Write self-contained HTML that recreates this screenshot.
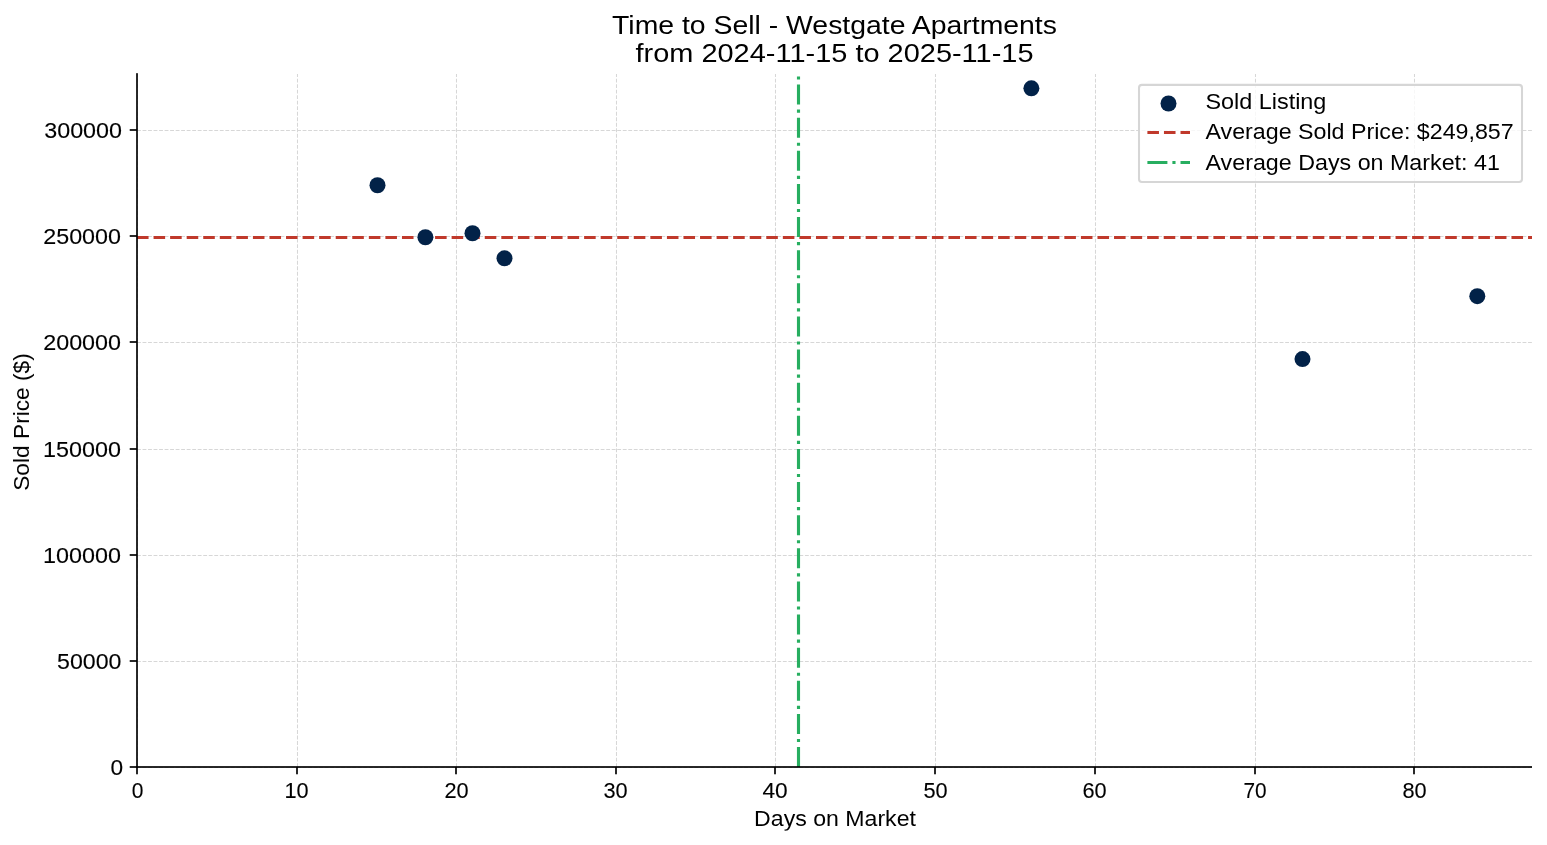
<!DOCTYPE html>
<html><head><meta charset="utf-8"><title>Time to Sell - Westgate Apartments</title>
<style>
html,body{margin:0;padding:0;background:#fff;width:1547px;height:845px;overflow:hidden}
svg{display:block}
text{font-family:"Liberation Sans",sans-serif;}
</style></head><body>
<svg width="1547" height="845" viewBox="0 0 1547 845">
<rect width="1547" height="845" fill="#fff"/>
<path d="M137.5 767.0V74.0 M297.5 767.0V74.0 M456.5 767.0V74.0 M616.5 767.0V74.0 M775.5 767.0V74.0 M935.5 767.0V74.0 M1095.5 767.0V74.0 M1255.5 767.0V74.0 M1414.5 767.0V74.0 M137.0 767.5H1532.0 M137.0 661.5H1532.0 M137.0 555.5H1532.0 M137.0 449.5H1532.0 M137.0 342.5H1532.0 M137.0 236.5H1532.0 M137.0 130.5H1532.0" stroke="#d7d7d7" stroke-width="1.04" stroke-dasharray="3.85 1.67" fill="none"/>
<path d="M137.0 237.5H1532.0" stroke="#c0392b" stroke-width="3.125" stroke-dasharray="11.56 5" fill="none"/>
<path d="M798.5 767.0V74.0" stroke="#27ae60" stroke-width="3.125" stroke-dasharray="20 5 3.125 5" fill="none"/>
<rect x="136.165" y="73.165" width="1.67" height="694.67" fill="#000"/>
<rect x="136.165" y="766.165" width="1395.835" height="1.67" fill="#000"/>
<g fill="#000"><rect x="136.165" y="767.0" width="1.67" height="7.29"/><rect x="296.165" y="767.0" width="1.67" height="7.29"/><rect x="455.165" y="767.0" width="1.67" height="7.29"/><rect x="615.165" y="767.0" width="1.67" height="7.29"/><rect x="774.165" y="767.0" width="1.67" height="7.29"/><rect x="934.165" y="767.0" width="1.67" height="7.29"/><rect x="1094.165" y="767.0" width="1.67" height="7.29"/><rect x="1254.165" y="767.0" width="1.67" height="7.29"/><rect x="1413.165" y="767.0" width="1.67" height="7.29"/><rect x="129.71" y="766.165" width="7.29" height="1.67"/><rect x="129.71" y="660.165" width="7.29" height="1.67"/><rect x="129.71" y="554.165" width="7.29" height="1.67"/><rect x="129.71" y="448.165" width="7.29" height="1.67"/><rect x="129.71" y="341.165" width="7.29" height="1.67"/><rect x="129.71" y="235.165" width="7.29" height="1.67"/><rect x="129.71" y="129.165" width="7.29" height="1.67"/></g>
<g fill="#022248"><circle cx="377.5" cy="185.25" r="8.0"/><circle cx="425.4" cy="237.25" r="8.0"/><circle cx="472.5" cy="233.25" r="8.0"/><circle cx="504.5" cy="258.3" r="8.0"/><circle cx="1031.4" cy="88.3" r="8.0"/><circle cx="1302.5" cy="359.05" r="8.0"/><circle cx="1477.3" cy="296.2" r="8.0"/></g>
<rect x="1139.0" y="84.9" width="383.0" height="97.1" rx="3.0" ry="3.0" fill="rgba(255,255,255,0.8)" stroke="#d6d6d6" stroke-width="2.08"/>
<circle cx="1168.5" cy="103.5" r="8.0" fill="#022248"/>
<path d="M1147.4 132.5H1190.0" stroke="#c0392b" stroke-width="3.125" stroke-dasharray="11.56 5" fill="none"/>
<path d="M1147.4 162.5H1190.0" stroke="#27ae60" stroke-width="3.125" stroke-dasharray="20 5 3.125 5" fill="none"/>
<g fill="#000" font-family="Liberation Sans, sans-serif" style="will-change:transform"><text transform="translate(834.50 34.00) scale(1.0717 1)" text-anchor="middle" font-size="26.5">Time to Sell - Westgate Apartments</text><text transform="translate(834.50 61.50) scale(1.0926 1)" text-anchor="middle" font-size="26.5">from 2024-11-15 to 2025-11-15</text><text transform="translate(123.00 774.50) scale(1.0000 1)" text-anchor="end" font-size="22.7" stroke="#000" stroke-width="0.12">0</text><text transform="translate(121.50 668.50) scale(1.0208 1)" text-anchor="end" font-size="22.7" stroke="#000" stroke-width="0.12">50000</text><text transform="translate(121.00 562.50) scale(1.0303 1)" text-anchor="end" font-size="22.7" stroke="#000" stroke-width="0.12">100000</text><text transform="translate(121.00 456.50) scale(1.0303 1)" text-anchor="end" font-size="22.7" stroke="#000" stroke-width="0.12">150000</text><text transform="translate(121.00 349.50) scale(1.0279 1)" text-anchor="end" font-size="22.7" stroke="#000" stroke-width="0.12">200000</text><text transform="translate(121.00 243.50) scale(1.0279 1)" text-anchor="end" font-size="22.7" stroke="#000" stroke-width="0.12">250000</text><text transform="translate(122.00 137.50) scale(1.0279 1)" text-anchor="end" font-size="22.7" stroke="#000" stroke-width="0.12">300000</text><text transform="translate(137.50 797.50) scale(0.9243 1)" text-anchor="middle" font-size="22.7" stroke="#000" stroke-width="0.12">0</text><text transform="translate(296.50 797.50) scale(0.9565 1)" text-anchor="middle" font-size="22.7" stroke="#000" stroke-width="0.12">10</text><text transform="translate(456.50 797.50) scale(0.9583 1)" text-anchor="middle" font-size="22.7" stroke="#000" stroke-width="0.12">20</text><text transform="translate(615.50 797.50) scale(0.9583 1)" text-anchor="middle" font-size="22.7" stroke="#000" stroke-width="0.12">30</text><text transform="translate(775.00 797.50) scale(1.0000 1)" text-anchor="middle" font-size="22.7" stroke="#000" stroke-width="0.12">40</text><text transform="translate(935.50 797.50) scale(0.9583 1)" text-anchor="middle" font-size="22.7" stroke="#000" stroke-width="0.12">50</text><text transform="translate(1094.50 797.50) scale(0.9583 1)" text-anchor="middle" font-size="22.7" stroke="#000" stroke-width="0.12">60</text><text transform="translate(1255.00 797.50) scale(0.9167 1)" text-anchor="middle" font-size="22.7" stroke="#000" stroke-width="0.12">70</text><text transform="translate(1414.50 797.50) scale(0.9583 1)" text-anchor="middle" font-size="22.7" stroke="#000" stroke-width="0.12">80</text><text transform="translate(835.00 825.50) scale(1.0323 1)" text-anchor="middle" font-size="22.4">Days on Market</text><text transform="translate(29.00 422.00) rotate(-90) scale(1.0151 1)" text-anchor="middle" font-size="22.4">Sold Price ($)</text><text transform="translate(1205.50 108.50) scale(1.0442 1)" text-anchor="start" font-size="22.4">Sold Listing</text><text transform="translate(1205.50 138.50) scale(1.0372 1)" text-anchor="start" font-size="22.4">Average Sold Price: $249,857</text><text transform="translate(1205.50 169.50) scale(1.0389 1)" text-anchor="start" font-size="22.4">Average Days on Market: 41</text></g>
</svg>
</body></html>
